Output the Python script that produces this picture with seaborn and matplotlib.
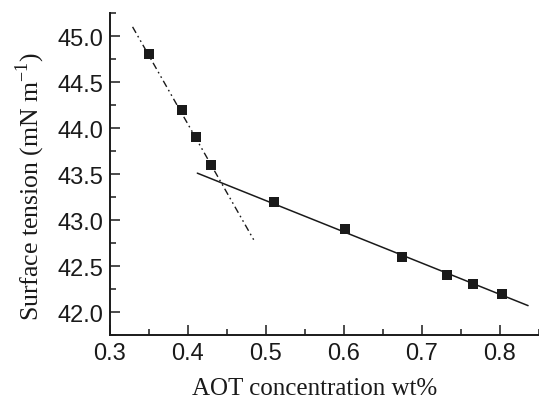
import numpy as np
import pandas as pd
import matplotlib
matplotlib.use('Agg')
import matplotlib.pyplot as plt
import seaborn as sns
from matplotlib.ticker import MultipleLocator

# %% Data

aot_wt = [0.350, 0.392, 0.410, 0.430, 0.510, 0.601, 0.674, 0.732, 0.766, 0.802]
surf_tension = [44.8, 44.2, 43.9, 43.6, 43.2, 42.9, 42.6, 42.4, 42.3, 42.2]

#Fitted lines (end points)
fit1_x = [0.329, 0.486]
fit1_y = [45.10, 42.76]
fit2_x = [0.412, 0.836]
fit2_y = [43.51, 42.07]

df = pd.DataFrame({'aot': aot_wt, 'st': surf_tension})
df_fit1 = pd.DataFrame({'aot': fit1_x, 'st': fit1_y})
df_fit2 = pd.DataFrame({'aot': fit2_x, 'st': fit2_y})

# %% Plot

sns.set_style('ticks')
plt.rcParams['font.family'] = ['Liberation Serif', 'DejaVu Serif']
plt.rcParams['mathtext.fontset'] = 'custom'
plt.rcParams['mathtext.rm'] = 'Liberation Serif'

fig = plt.figure(figsize=(5.39, 4.02), dpi=100)
ax = fig.add_axes([0.204, 0.164, 0.796, 0.801])

ink = '#1a1a1a'

sns.lineplot(data=df_fit1, x='aot', y='st', ax=ax, color=ink, lw=1.0,
             linestyle=(0, (5, 2.5, 1.2, 2.5, 1.2, 2.5)), sort=False)
sns.lineplot(data=df_fit2, x='aot', y='st', ax=ax, color=ink, lw=1.1, sort=False)
sns.scatterplot(data=df, x='aot', y='st', ax=ax, marker='s', s=60,
                color=ink, edgecolor=ink, linewidth=0, zorder=5)

ax.set_xlim(0.3, 0.85)
ax.set_ylim(41.75, 45.25)
ax.xaxis.set_major_locator(MultipleLocator(0.1))
ax.xaxis.set_minor_locator(MultipleLocator(0.05))
ax.yaxis.set_major_locator(MultipleLocator(0.5))
ax.yaxis.set_minor_locator(MultipleLocator(0.25))
ax.set_xticklabels([f'{v:.1f}' for v in ax.get_xticks()])
ax.set_yticklabels([f'{v:.1f}' for v in ax.get_yticks()])

ax.spines['top'].set_visible(False)
ax.spines['right'].set_visible(False)
for side in ['left', 'bottom']:
    ax.spines[side].set_linewidth(1.4)
    ax.spines[side].set_color(ink)

ax.tick_params(which='major', direction='in', length=7, width=1.1, color=ink,
               labelsize=17, pad=5, labelcolor=ink)
ax.tick_params(which='minor', direction='in', length=4, width=1.1, color=ink)
for lab in ax.get_xticklabels() + ax.get_yticklabels():
    lab.set_family('Liberation Sans')

ax.set_xlabel('AOT concentration wt%', fontsize=18, color=ink, labelpad=9)
ax.set_ylabel('Surface tension (mN m$^{\\mathregular{-1}}$)', fontsize=18.5,
              color=ink, labelpad=7)
#Labels sit slightly off-centre in the original
ax.xaxis.label.set_x(0.476)
ax.yaxis.label.set_y(0.466)

fig.savefig('out.png', dpi=100, facecolor='white')
